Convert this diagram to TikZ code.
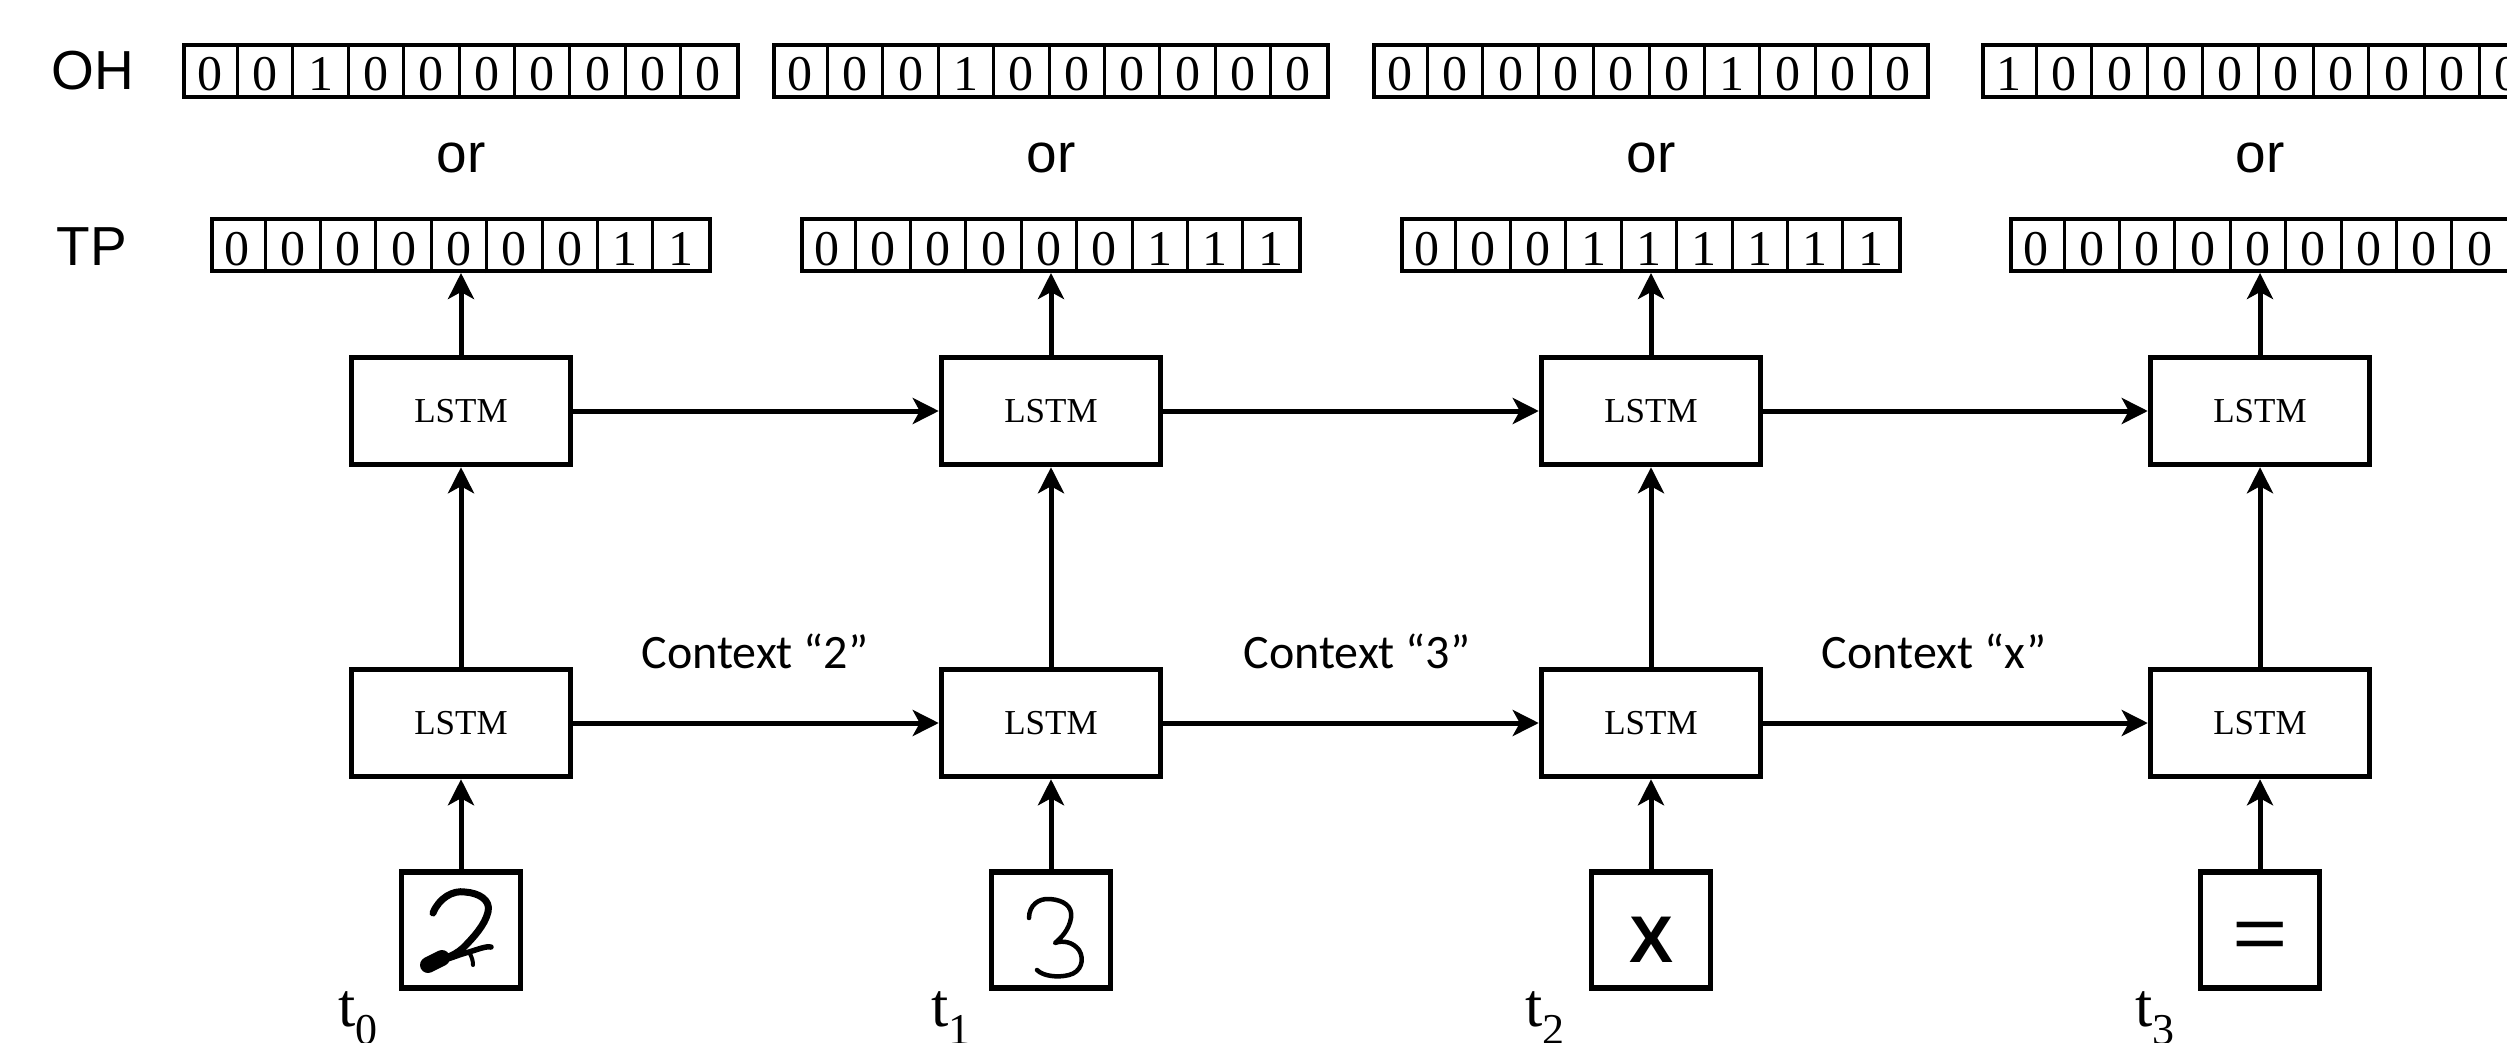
\documentclass[tikz,border=0pt]{standalone}
\usepackage{fontspec}
\setmainfont{Liberation Serif}
\newfontfamily\sansf{Liberation Sans}
\newfontfamily\calib{Carlito}
\usetikzlibrary{arrows.meta,calc}

\tikzset{
  lstm/.style={draw, line width=5.5pt, minimum width=219pt, minimum height=107pt, inner sep=0pt, font=\fontsize{35}{35}\selectfont},
  inbox/.style={draw, line width=5.5pt, minimum width=119pt, minimum height=116pt, inner sep=0pt},
  bitbox/.style={draw, line width=4pt, minimum height=52pt, inner sep=0pt},
  digit/.style={anchor=base, inner sep=0pt, font=\fontsize{50}{50}\selectfont},
  sidelabel/.style={anchor=base, inner sep=0pt, font={\sansf\fontsize{55}{55}\selectfont}},
  ctx/.style={anchor=base, inner sep=0pt, font={\calib\fontsize{48}{48}\selectfont}},
  tlab/.style={anchor=base west, inner sep=0pt, font=\fontsize{62}{62}\selectfont},
  conn/.style={line width=5pt, -{Stealth[length=26pt, width=26pt, inset=7pt]}},
  hand/.style={line cap=round, line join=round},
}

\newcommand{\bitrow}[5]{%
  \node[bitbox, minimum width=#4*55.4pt] (#1) at (#2,#3) {};
  \pgfmathtruncatemacro{\lastdiv}{#4-1}
  \foreach \k in {1,...,\lastdiv}{
    \draw[line width=3pt] ($(#1.south west)+(\k*55.4,0)$) -- ($(#1.north west)+(\k*55.4,0)$);
  }
  \foreach \d [count=\k] in {#5}{
    \node[digit] at ($(#1.south west)+(\k*55.4-27.7,-8)$) {\d};
  }
}

\begin{document}
\begin{tikzpicture}[x=1pt,y=-1pt]
\useasboundingbox (0,0) rectangle (2507,1043);
\clip (0,0) rectangle (2507,1043);
\fill[white] (0,0) rectangle (2507,1043);

% row labels
\node[sidelabel] (ohlab) at (93,90) {OH};
\node[sidelabel] (tplab) at (92,265) {TP};

% one-hot rows
\bitrow{oh1}{461}{71}{10}{0,0,1,0,0,0,0,0,0,0}
\bitrow{oh2}{1051}{71}{10}{0,0,0,1,0,0,0,0,0,0}
\bitrow{oh3}{1651}{71}{10}{0,0,0,0,0,0,1,0,0,0}
\bitrow{oh4}{2260}{71}{10}{1,0,0,0,0,0,0,0,0,0}

% "or"
\node[sidelabel] (or1) at (461,173) {or};
\node[sidelabel] (or2) at (1051,173) {or};
\node[sidelabel] (or3) at (1651,173) {or};
\node[sidelabel] (or4) at (2260,173) {or};

% thermometer rows
\bitrow{tp1}{461}{245}{9}{0,0,0,0,0,0,0,1,1}
\bitrow{tp2}{1051}{245}{9}{0,0,0,0,0,0,1,1,1}
\bitrow{tp3}{1651}{245}{9}{0,0,0,1,1,1,1,1,1}
\bitrow{tp4}{2260}{245}{9}{0,0,0,0,0,0,0,0,0}

% LSTM cells
\node[lstm] (u1) at (461,411) {LSTM};
\node[lstm] (u2) at (1051,411) {LSTM};
\node[lstm] (u3) at (1651,411) {LSTM};
\node[lstm] (u4) at (2260,411) {LSTM};
\node[lstm] (l1) at (461,723) {LSTM};
\node[lstm] (l2) at (1051,723) {LSTM};
\node[lstm] (l3) at (1651,723) {LSTM};
\node[lstm] (l4) at (2260,723) {LSTM};

% inputs
\node[inbox] (in1) at (461,930) {};
\node[inbox] (in2) at (1051,930) {};
\node[inbox] (in3) at (1651,930) {};
\node[inbox] (in4) at (2260,930) {};

% handwritten 2
\begin{scope}[shift={(in1.center)}]
  \draw[hand, line width=7pt] (-28,-17) .. controls (-22,-32) and (-8,-40) .. (4,-38)
     .. controls (18,-37) and (30,-30) .. (27,-18)
     .. controls (24,-5) and (12,8) .. (2,18)
     .. controls (-8,27) and (-20,30) .. (-32,32);
  \draw[hand, line width=5.5pt] (-30,33) .. controls (-18,32) and (-4,25) .. (8,22)
     .. controls (18,19) and (25,16) .. (30,17);
  \draw[hand, line width=4pt] (8,22) .. controls (11,27) and (12,31) .. (12,35);
  \draw[line width=16pt, line cap=round] (-33,35) -- (-19,28);
\end{scope}

% handwritten 3
\begin{scope}[shift={(in2.center)}]
  \draw[hand, line width=4.5pt] (-22,-12) .. controls (-22,-25) and (-12,-32) .. (-1,-31)
     .. controls (12,-30) and (22,-24) .. (20,-12)
     .. controls (18,0) and (10,8) .. (4,13)
     .. controls (12,10) and (22,12) .. (28,20)
     .. controls (34,30) and (30,42) .. (18,45)
     .. controls (6,48) and (-8,46) .. (-14,40);
\end{scope}

% X and =
\node[anchor=base, inner sep=0pt, font={\sansf\bfseries\fontsize{66}{66}\selectfont}] (xsym) at (1651,962) {X};
\node[anchor=base, inner sep=0pt, font={\sansf\fontsize{76}{76}\selectfont}] (eqsym) at (2260,959) {\scalebox{1.25}[1]{=}};

% vertical connectors
\foreach \i in {1,...,4}{
  \draw[conn] (in\i) -- (l\i);
  \draw[conn] (l\i) -- (u\i);
  \draw[conn] (u\i) -- (tp\i);
}
% horizontal connectors
\foreach \i/\j in {1/2,2/3,3/4}{
  \draw[conn] (u\i) -- (u\j);
  \draw[conn] (l\i) -- (l\j);
}

% context labels
\node[ctx] (c1) at (755,668) {Context “2”};
\node[ctx] (c2) at (1357,668) {Context “3”};
\node[ctx] (c3) at (1934,668) {Context “x”};

% time labels
\node[tlab] (t0) at (338,1026) {t\raisebox{-18pt}{\fontsize{44}{44}\selectfont 0}};
\node[tlab] (t1) at (931,1026) {t\raisebox{-18pt}{\fontsize{44}{44}\selectfont 1}};
\node[tlab] (t2) at (1525,1026) {t\raisebox{-18pt}{\fontsize{44}{44}\selectfont 2}};
\node[tlab] (t3) at (2135,1026) {t\raisebox{-18pt}{\fontsize{44}{44}\selectfont 3}};
\end{tikzpicture}
\end{document}
